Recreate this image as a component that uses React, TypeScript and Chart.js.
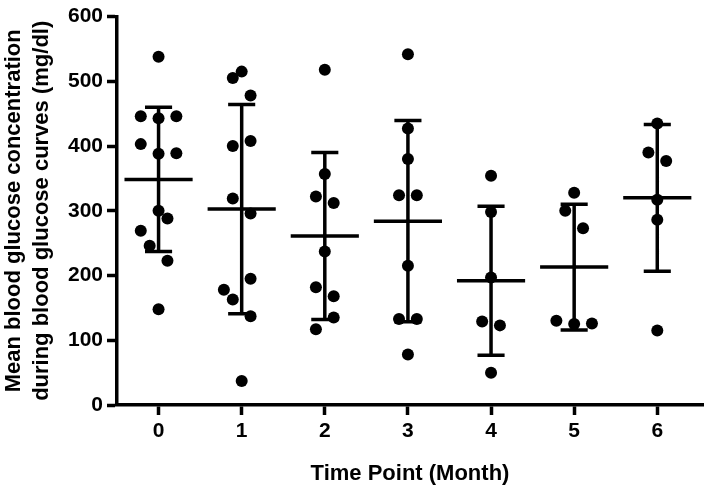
import React, { useEffect, useRef } from "react";
import { Chart, registerables } from "chart.js";

Chart.register(...registerables);

// ---- data ----
const timePoints = [0, 1, 2, 3, 4, 5, 6];
const xTickLabels = ["0", "1", "2", "3", "4", "5", "6"];
const yTicks = [0, 100, 200, 300, 400, 500, 600];
const xTitle = "Time Point (Month)";
const yTitle = ["Mean blood glucose concentration", "during blood glucose curves (mg/dl)"];

// individual animal values per time point (mg/dl)
const month0 = [538, 446, 443, 446, 403, 388, 389, 300, 288, 269, 246, 223, 148];
const month1 = [505, 515, 478, 400, 408, 319, 296, 195, 178, 163, 137, 37];
const month2 = [518, 357, 322, 312, 237, 182, 168, 135, 117];
const month3 = [542, 427, 380, 324, 324, 215, 133, 133, 78];
const month4 = [354, 298, 197, 129, 123, 50];
const month5 = [328, 300, 273, 130, 125, 126];
const month6 = [435, 390, 377, 317, 286, 115];

// column-scatter slot of each dot (half-dot steps left/right of the column centre)
const slots0 = [0, -2, 0, 2, -2, 0, 2, 0, 1, -2, -1, 1, 0];
const slots1 = [-1, 0, 1, -1, 1, -1, 1, 1, -2, -1, 1, 0];
const slots2 = [0, 0, -1, 1, 0, -1, 1, 1, -1];
const slots3 = [0, 0, 0, -1, 1, 0, -1, 1, 0];
const slots4 = [0, 0, 0, -1, 1, 0];
const slots5 = [0, -1, 1, -2, 0, 2];
const slots6 = [0, -1, 1, 0, 0, 0];

// mean and SD bars as drawn
const means = [348.5, 302.6, 261, 284, 192, 213, 320];
const sds = [111.5, 161.5, 129, 155.5, 115, 97, 113.5];

const groups = [month0, month1, month2, month3, month4, month5, month6];
const slotGroups = [slots0, slots1, slots2, slots3, slots4, slots5, slots6];

// ---- style constants ----
const SLOT_STEP = 0.107;
const MEAN_HALF = 0.41;
const CAP_HALF = 0.163;
const INK = "#000";
const LINE_W = 3.5;
const FONT_FAMILY = "'Liberation Sans', Arial, Helvetica, sans-serif";
const tickFont = { family: FONT_FAMILY, size: 21, weight: "bold" as const };
const xTitleFont = { family: FONT_FAMILY, size: 22, weight: "bold" as const };
const yTitleFont = { family: FONT_FAMILY, size: 22, weight: "bold" as const, lineHeight: 1.27 };

function buildPoints() {
  const pts: { x: number; y: number }[] = [];
  groups.forEach((vals, gi) => {
    vals.forEach((v, i) => {
      pts.push({ x: timePoints[gi] + slotGroups[gi][i] * SLOT_STEP, y: v });
    });
  });
  return pts;
}

function buildBars() {
  const d: { x: number; y: number | null }[] = [];
  timePoints.forEach((t, gi) => {
    const m = means[gi];
    const hi = m + sds[gi];
    const lo = m - sds[gi];
    d.push({ x: t - MEAN_HALF, y: m }, { x: t + MEAN_HALF, y: m }, { x: t, y: null });
    d.push({ x: t, y: lo }, { x: t, y: hi }, { x: t, y: null });
    d.push({ x: t - CAP_HALF, y: hi }, { x: t + CAP_HALF, y: hi }, { x: t, y: null });
    d.push({ x: t - CAP_HALF, y: lo }, { x: t + CAP_HALF, y: lo }, { x: t, y: null });
  });
  return d;
}

export default function App() {
  const ref = useRef<HTMLCanvasElement>(null);

  useEffect(() => {
    if (!ref.current) return;
    const chart = new Chart(ref.current, {
      type: "scatter",
      data: {
        datasets: [
          {
            type: "scatter",
            label: "values",
            data: buildPoints(),
            pointRadius: 6,
            pointHoverRadius: 6,
            pointBackgroundColor: INK,
            pointBorderWidth: 0,
            order: 1,
          } as any,
          {
            type: "line",
            label: "mean ± SD",
            data: buildBars(),
            borderColor: INK,
            borderWidth: LINE_W,
            borderCapStyle: "butt",
            pointRadius: 0,
            pointHoverRadius: 0,
            spanGaps: false,
            tension: 0,
            fill: false,
            order: 2,
          } as any,
        ],
      },
      options: {
        responsive: false,
        animation: false,
        events: [],
        layout: { padding: { top: 14, right: 1, left: 0, bottom: 0 } },
        plugins: { legend: { display: false }, tooltip: { enabled: false } },
        scales: {
          x: {
            type: "linear",
            min: -0.5,
            max: 6.55,
            afterBuildTicks: (s: any) => {
              s.ticks = timePoints.map((v) => ({ value: v }));
            },
            afterFit: (s: any) => {
              s.height = 85;
            },
            ticks: {
              autoSkip: false,
              maxRotation: 0,
              color: INK,
              font: tickFont,
              padding: 4,
              callback: (v: any) => {
                const i = timePoints.indexOf(Number(v));
                return i >= 0 ? xTickLabels[i] : "";
              },
            },
            grid: {
              drawOnChartArea: false,
              drawTicks: true,
              tickLength: 10,
              tickWidth: LINE_W,
              color: INK,
            },
            border: { display: true, color: INK, width: LINE_W },
            title: {
              display: true,
              text: xTitle,
              color: INK,
              font: xTitleFont,
              padding: { top: 0, bottom: 3 },
            },
          },
          y: {
            type: "linear",
            min: 0,
            max: 600,
            afterBuildTicks: (s: any) => {
              s.ticks = yTicks.map((v) => ({ value: v }));
            },
            afterFit: (s: any) => {
              s.width = 117;
            },
            ticks: {
              color: INK,
              font: tickFont,
              padding: 4,
            },
            grid: {
              drawOnChartArea: false,
              drawTicks: true,
              tickLength: 10,
              tickWidth: LINE_W,
              color: INK,
            },
            border: { display: true, color: INK, width: LINE_W },
            title: {
              display: true,
              text: yTitle,
              color: INK,
              font: yTitleFont,
              padding: { top: 0, bottom: 0 },
            },
          },
        },
      } as any,
    });
    return () => chart.destroy();
  }, []);

  return (
    <div style={{ position: "absolute", left: 0, top: 0, width: 709, height: 490, background: "#fff" }}>
      <canvas ref={ref} width={709} height={490} style={{ display: "block" }} />
    </div>
  );
}
